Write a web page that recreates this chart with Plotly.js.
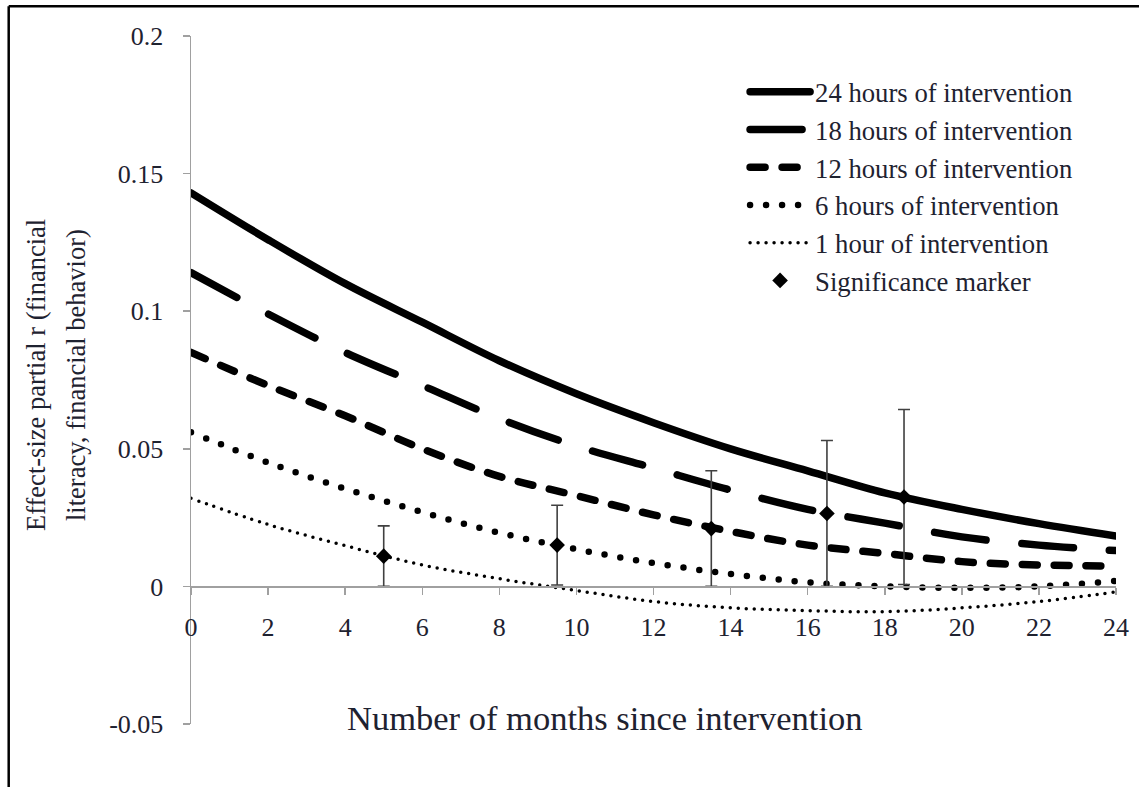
<!DOCTYPE html>
<html><head><meta charset="utf-8">
<script src="https://cdn.plot.ly/plotly-3.0.1.min.js"></script>
<style>
html,body{margin:0;padding:0;background:#fff;}
#chart{width:1139px;height:787px;}
.js-line{stroke-linecap:round;}
</style></head><body><div id="chart"></div>
<script>
// Data
const months = [0, 2, 4, 6, 8, 10, 12, 14, 16, 18, 20, 22, 24];
const hours24 = [0.143, 0.126, 0.110, 0.096, 0.082, 0.070, 0.0595, 0.050, 0.042, 0.034, 0.028, 0.0228, 0.0183];
const hours18 = [0.114, 0.099, 0.085, 0.073, 0.061, 0.051, 0.043, 0.035, 0.028, 0.023, 0.018, 0.015, 0.013];
const hours12 = [0.085, 0.073, 0.062, 0.050, 0.040, 0.033, 0.026, 0.020, 0.015, 0.012, 0.009, 0.0078, 0.0074];
const hours6  = [0.056, 0.045, 0.0355, 0.027, 0.0195, 0.0135, 0.0085, 0.0045, 0.0015, 0.0, -0.0005, 0.0, 0.002];
const hours1  = [0.032, 0.0225, 0.0148, 0.0078, 0.0028, -0.0015, -0.0055, -0.0078, -0.0088, -0.0092, -0.0078, -0.0055, -0.002];
const sigMonths = [5, 9.5, 13.5, 16.5, 18.5];
const sigValues = [0.011, 0.015, 0.021, 0.0265, 0.0325];
const sigErrors = [0.011, 0.0145, 0.021, 0.0265, 0.0318];
const seriesNames = ['24 hours of intervention', '18 hours of intervention', '12 hours of intervention', '6 hours of intervention', '1 hour of intervention', 'Significance marker'];
const xTickVals = [0, 2, 4, 6, 8, 10, 12, 14, 16, 18, 20, 22, 24];
const yTickVals = [-0.05, 0, 0.05, 0.1, 0.15, 0.2];
const yTickText = ['-0.05', '0', '0.05', '0.1', '0.15', '0.2'];
const xTitle = 'Number of months since intervention';
const yTitle1 = 'Effect-size partial r (financial';
const yTitle2 = 'literacy, financial behavior)';

const FONT = 'Liberation Serif, Times New Roman, serif';
const TXT = '#1e2230';

function lineTrace(y, name, width, dash) {
  return {x: months, y: y, name: name, type: 'scatter', mode: 'lines',
    line: {color: '#000', width: width, dash: dash, shape: 'spline'}, hoverinfo: 'skip'};
}

const traces = [
  lineTrace(hours24, seriesNames[0], 7.5, 'solid'),
  lineTrace(hours18, seriesNames[1], 7.5, '52px,36px'),
  lineTrace(hours12, seriesNames[2], 7.5, '15px,17px'),
  lineTrace(hours6, seriesNames[3], 6.5, '0px,16px'),
  lineTrace(hours1, seriesNames[4], 3.5, '0px,8px'),
  {x: sigMonths, y: sigValues, name: seriesNames[5], type: 'scatter', mode: 'markers',
   marker: {symbol: 'diamond', size: 12, color: '#000'},
   error_y: {type: 'data', array: sigErrors, visible: true, color: '#404040', thickness: 1.6, width: 6}}
];

const frameLeft = (8.7 - 191) / 925;
const frameTop = (724 - 6.2) / 688;

const layout = {
  width: 1139, height: 787,
  margin: {l: 191, r: 23, t: 36, b: 63},
  paper_bgcolor: '#fff', plot_bgcolor: 'rgba(0,0,0,0)',
  font: {family: FONT, color: TXT, size: 26},
  showlegend: true,
  legend: {x: 0.599, y: 0.9535, xanchor: 'left', yanchor: 'top', bgcolor: 'rgba(0,0,0,0)',
    font: {family: FONT, size: 26.7, color: TXT}, itemwidth: 60, tracegroupgap: 0},
  xaxis: {range: [0, 24], anchor: 'free', position: 0.2, showline: true, linecolor: '#a0a0a0', linewidth: 1.5,
    ticks: 'outside', ticklen: 7, tickcolor: '#a0a0a0', tickwidth: 1.5,
    tickvals: xTickVals, showgrid: false, zeroline: false, ticklabelstandoff: 10,
    tickfont: {family: FONT, size: 26, color: TXT}},
  yaxis: {range: [-0.05, 0.2], showline: true, linecolor: '#a0a0a0', linewidth: 1.5,
    ticks: 'outside', ticklen: 7, tickcolor: '#a0a0a0', tickwidth: 1.5,
    tickvals: yTickVals, ticktext: yTickText, showgrid: false, zeroline: false, ticklabelstandoff: 14,
    tickfont: {family: FONT, size: 26, color: TXT}},
  annotations: [
    {text: xTitle, xref: 'paper', yref: 'paper', x: 0.447, y: 0.0087, xanchor: 'center', yanchor: 'middle',
     showarrow: false, font: {family: FONT, size: 34.5, color: TXT}},
    {text: yTitle1, xref: 'paper', yref: 'paper', x: (36 - 191) / 925, y: (724 - 375) / 688, xanchor: 'center', yanchor: 'middle',
     textangle: -90, showarrow: false, font: {family: FONT, size: 26.5, color: TXT}},
    {text: yTitle2, xref: 'paper', yref: 'paper', x: (76 - 191) / 925, y: (724 - 375) / 688, xanchor: 'center', yanchor: 'middle',
     textangle: -90, showarrow: false, font: {family: FONT, size: 26.5, color: TXT}}
  ],
  shapes: [
    {type: 'line', xref: 'paper', yref: 'paper', x0: frameLeft, x1: 1.2, y0: frameTop, y1: frameTop,
     line: {color: '#000', width: 2.5}, layer: 'above'},
    {type: 'line', xref: 'paper', yref: 'paper', x0: frameLeft, x1: frameLeft, y0: -0.3, y1: frameTop,
     line: {color: '#000', width: 2.5}, layer: 'above'}
  ]
};

Plotly.newPlot('chart', traces, layout, {displayModeBar: false, staticPlot: true});
</script></body></html>
